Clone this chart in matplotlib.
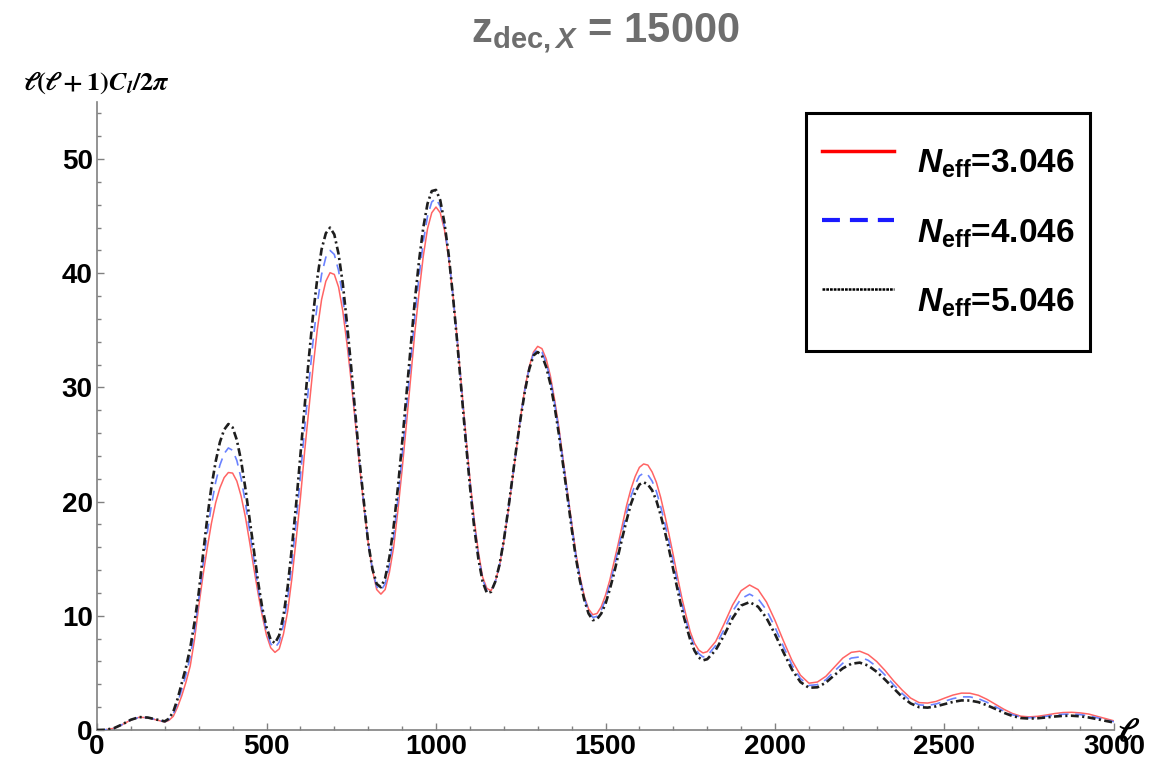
import numpy as np
import matplotlib
matplotlib.use("Agg")
import matplotlib.pyplot as plt
from matplotlib.lines import Line2D

plt.rcParams["font.family"] = ["Liberation Sans", "DejaVu Sans"]
plt.rcParams["font.weight"] = "bold"
plt.rcParams["mathtext.fontset"] = "custom"
plt.rcParams["mathtext.rm"] = "Liberation Sans"
plt.rcParams["mathtext.it"] = "Liberation Sans:italic"
plt.rcParams["mathtext.bf"] = "Liberation Sans:bold"
plt.rcParams["mathtext.bfit"] = "Liberation Sans:bold:italic"

# multipoles: step 25 at low l, 12.5 through the acoustic peaks, 25 in the tail
ell = np.concatenate([np.arange(0, 200, 25),
                      np.arange(200, 1800.1, 12.5),
                      np.arange(1825, 3000.1, 25)])

# l(l+1)C_l/2pi for N_eff = 3.046
cl_3046 = [
    # 0 - 175
    0.0, 0.02, 0.15, 0.48, 0.88, 1.12, 1.07, 0.88,
    # 200 - 1800
    0.70, 0.85, 1.2, 2.0, 3.0, 4.2, 5.6, 7.9, 10.8, 13.5,
    15.9, 18.1, 19.9, 21.2, 22.1, 22.55, 22.5, 21.8, 20.5, 18.7,
    16.5, 14.2, 12.0, 10.0, 8.3, 7.2, 6.8, 7.1, 8.4, 10.4,
    13.3, 16.7, 20.3, 24.4, 28.1, 31.8, 35.1, 37.7, 39.3, 40.05,
    39.9, 38.8, 36.7, 33.8, 30.5, 26.8, 23.0, 19.5, 16.4, 14.0,
    12.3, 11.9, 12.3, 13.8, 16.0, 19.2, 22.8, 26.7, 30.8, 34.8,
    38.3, 41.5, 43.9, 45.3, 45.8, 45.3, 43.8, 41.3, 38.1, 34.3,
    30.1, 26.0, 22.0, 18.5, 15.6, 13.4, 12.4, 12.2, 13.0, 14.4,
    16.5, 19.05, 21.8, 24.7, 27.5, 30.0, 31.8, 33.1, 33.6, 33.4,
    32.5, 31.0, 28.9, 26.5, 23.7, 20.9, 18.2, 15.5, 13.4, 11.7,
    10.6, 10.1, 10.2, 10.8, 11.8, 13.1, 14.7, 16.3, 18.0, 19.7,
    21.1, 22.2, 23.0, 23.3, 23.2, 22.6, 21.7, 20.4, 18.8, 17.1,
    15.3, 13.4, 11.6, 10.05, 8.6, 7.6, 7.0, 6.75, 6.86,
    # 1825 - 3000
    7.75, 9.3, 10.95, 12.2, 12.7, 12.3, 11.2, 9.6, 7.8, 6.1,
    4.8, 4.1, 4.2, 4.7, 5.5, 6.3, 6.8, 6.9, 6.6, 6.0,
    5.2, 4.3, 3.5, 2.8, 2.4, 2.36, 2.5, 2.79, 3.06, 3.23,
    3.22, 3.04, 2.69, 2.26, 1.82, 1.45, 1.21, 1.15, 1.2, 1.31,
    1.44, 1.53, 1.55, 1.5, 1.4, 1.2, 1.0, 0.8,
]

# N_eff = 4.046
cl_4046 = [
    0.0, 0.02, 0.15, 0.49, 0.89, 1.12, 1.08, 0.9,
    0.73, 0.93, 1.4, 2.35, 3.55, 4.85, 6.4, 8.65, 11.4, 14.4,
    17.2, 19.7, 21.7, 23.2, 24.2, 24.7, 24.5, 23.6, 22.05, 19.95,
    17.5, 15.0, 12.5, 10.35, 8.65, 7.55, 7.2, 7.7, 9.2, 11.5,
    14.65, 18.25, 22.2, 26.4, 30.35, 34.1, 37.35, 39.9, 41.4, 42.0,
    41.65, 40.25, 37.9, 34.7, 31.1, 27.2, 23.2, 19.7, 16.4, 14.05,
    12.55, 12.2, 12.8, 14.45, 16.9, 20.2, 23.95, 28.0, 32.1, 36.2,
    39.7, 42.75, 45.0, 46.25, 46.55, 45.85, 44.1, 41.45, 38.05, 34.15,
    29.9, 25.7, 21.7, 18.15, 15.3, 13.2, 12.2, 12.15, 13.0, 14.45,
    16.55, 19.1, 21.9, 24.75, 27.45, 29.85, 31.7, 32.95, 33.35, 33.1,
    32.15, 30.65, 28.6, 26.2, 23.45, 20.7, 17.95, 15.3, 13.2, 11.55,
    10.4, 9.86, 9.95, 10.5, 11.4, 12.7, 14.2, 15.8, 17.45, 19.05,
    20.45, 21.5, 22.25, 22.5, 22.35, 21.8, 20.9, 19.6, 18.1, 16.45,
    14.7, 12.85, 11.1, 9.6, 8.25, 7.3, 6.7, 6.4, 6.5,
    7.4, 8.8, 10.4, 11.5, 11.9, 11.5, 10.5, 9.0, 7.3, 5.7,
    4.5, 3.9, 3.97, 4.4, 5.15, 5.85, 6.3, 6.4, 6.1, 5.55,
    4.8, 3.95, 3.2, 2.55, 2.2, 2.15, 2.28, 2.52, 2.75, 2.9,
    2.9, 2.74, 2.43, 2.05, 1.66, 1.34, 1.13, 1.07, 1.11, 1.2,
    1.31, 1.38, 1.4, 1.35, 1.25, 1.07, 0.9, 0.72,
]

# N_eff = 5.046
cl_5046 = [
    0.0, 0.02, 0.16, 0.5, 0.9, 1.13, 1.09, 0.92,
    0.76, 1.0, 1.6, 2.7, 4.1, 5.5, 7.2, 9.4, 12.0, 15.3,
    18.5, 21.3, 23.5, 25.2, 26.3, 26.8, 26.5, 25.4, 23.6, 21.2,
    18.5, 15.8, 13.0, 10.7, 9.0, 7.9, 7.6, 8.3, 10.0, 12.55,
    16.0, 19.8, 24.1, 28.4, 32.6, 36.4, 39.6, 42.1, 43.5, 44.0,
    43.4, 41.7, 39.1, 35.6, 31.7, 27.6, 23.4, 19.9, 16.4, 14.1,
    12.8, 12.5, 13.3, 15.1, 17.8, 21.2, 25.1, 29.3, 33.4, 37.6,
    41.1, 44.0, 46.1, 47.2, 47.3, 46.4, 44.4, 41.6, 38.0, 34.0,
    29.7, 25.4, 21.4, 17.8, 15.0, 13.0, 12.0, 12.1, 13.0, 14.5,
    16.6, 19.2, 22.0, 24.8, 27.4, 29.7, 31.6, 32.8, 33.1, 32.8,
    31.8, 30.3, 28.3, 25.9, 23.2, 20.5, 17.7, 15.1, 13.0, 11.4,
    10.2, 9.62, 9.7, 10.2, 11.05, 12.3, 13.7, 15.3, 16.9, 18.4,
    19.8, 20.8, 21.5, 21.7, 21.5, 21.0, 20.1, 18.85, 17.4, 15.8,
    14.05, 12.3, 10.6, 9.2, 7.9, 6.95, 6.35, 6.1, 6.2,
    7.0, 8.3, 9.8, 10.9, 11.2, 10.8, 9.8, 8.4, 6.8, 5.3,
    4.2, 3.7, 3.74, 4.15, 4.8, 5.4, 5.8, 5.9, 5.64, 5.1,
    4.4, 3.65, 2.9, 2.33, 2.0, 1.96, 2.07, 2.26, 2.46, 2.59,
    2.58, 2.44, 2.17, 1.85, 1.51, 1.23, 1.05, 1.0, 1.03, 1.1,
    1.18, 1.24, 1.25, 1.2, 1.1, 0.95, 0.8, 0.65,
]
labels = ["3.046", "4.046", "5.046"]

W, H = 1173, 763
fig = plt.figure(figsize=(W / 100, H / 100), dpi=100)
ax = fig.add_axes([97 / W, 33 / H, (1114 - 97) / W, (730 - 102) / H])

ax.plot(ell, cl_3046, color="#ff6464", lw=1.1, zorder=2)
ax.plot(ell, cl_4046, color="#6a82ff", lw=1.2, ls=(0, (6, 4)), zorder=3)
ax.plot(ell, cl_5046, color="#1e1e1e", lw=1.9, ls=(0, (3, 1.3, 0.8, 1.3)), zorder=4)

ax.set_xlim(0, 3000)
ax.set_ylim(0, 55)
ax.set_xticks(np.arange(0, 3001, 500))
ax.set_xticks(np.arange(0, 3001, 100), minor=True)
ax.set_yticks(np.arange(0, 51, 10))
ax.set_yticks(np.arange(0, 55, 2), minor=True)
ax.tick_params(which="both", direction="in", color="#808080", width=1)
ax.tick_params(which="major", length=5, labelsize=20, pad=3)
ax.tick_params(which="minor", length=3)
for side in ["top", "right"]:
    ax.spines[side].set_visible(False)
for side in ["left", "bottom"]:
    ax.spines[side].set_color("#808080")
    ax.spines[side].set_linewidth(1.2)

# title and axis labels
fig.text(605 / W, 1 - 33 / H, r"z$_{\mathbf{dec,}\boldsymbol{X}}$ = 15000",
         color="#6e6e6e", fontsize=30, fontweight="bold", ha="center", va="center")
fig.text(23 / W, 1 - 96 / H, r"$\ell(\ell+1)\boldsymbol{C}_{\boldsymbol{l}}/2\pi$",
         fontsize=19, math_fontfamily="stix", ha="left", va="bottom")
fig.text(1117 / W, 1 - 733 / H, r"$\ell$", fontsize=24, math_fontfamily="stix",
         ha="left", va="center")

handles = [
    Line2D([], [], color="#ff0000", lw=2.5),
    Line2D([], [], color="#1a1aff", lw=3, ls=(0, (4.3, 2.4))),
    Line2D([], [], color="#000000", lw=1.8, ls=(0, (1.1, 0.4))),
]
leg = ax.legend(handles, [r"$\boldsymbol{N}_{\mathbf{eff}}$=" + s for s in labels],
                loc="upper right", bbox_to_anchor=(1090 / W, 1 - 113 / H),
                bbox_transform=fig.transFigure, borderaxespad=0,
                prop={"size": 24, "weight": "bold"}, handlelength=2.16,
                handleheight=2.81, labelspacing=0, handletextpad=0.69,
                borderpad=0.47, fancybox=False, framealpha=1, edgecolor="black")
leg.get_frame().set_linewidth(2.2)

fig.savefig("out.png", dpi=100)
